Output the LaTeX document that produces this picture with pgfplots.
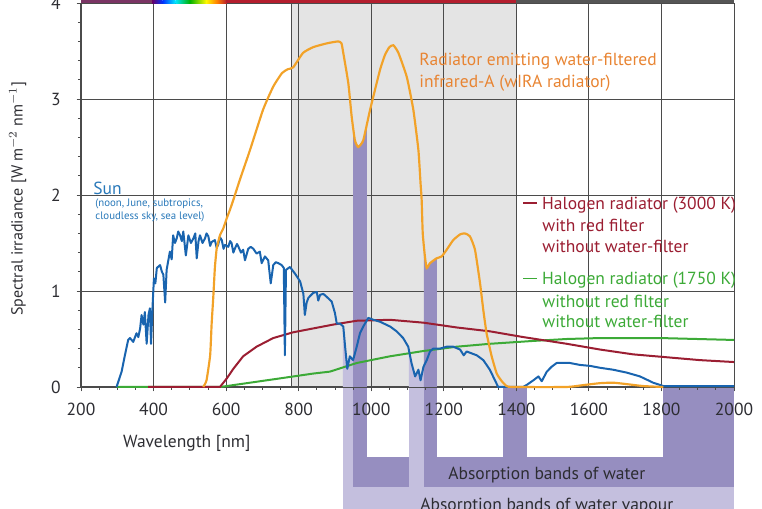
\documentclass[border=0pt]{standalone}
\usepackage{pgfplots}
\pgfplotsset{compat=1.18}
\usepackage{pgfplotstable}
\usepackage{fontspec}
\setmainfont{PT Sans}

\definecolor{orln}{RGB}{242,162,40}
\definecolor{ortx}{RGB}{232,132,50}
\definecolor{blln}{RGB}{25,100,175}
\definecolor{bltx}{RGB}{40,120,185}
\definecolor{rdln}{RGB}{155,30,50}
\definecolor{grln}{RGB}{60,170,55}
\definecolor{graybg}{RGB}{228,228,228}
\definecolor{dpur}{RGB}{150,142,192}
\definecolor{lpur}{RGB}{196,191,222}
\definecolor{barpur}{RGB}{122,52,100}
\definecolor{barred}{RGB}{180,30,46}
\definecolor{bargray}{RGB}{85,85,85}
\definecolor{gridc}{RGB}{75,75,75}
\definecolor{txtc}{RGB}{45,45,50}

\pgfplotstableread{
x y
298 0
312 0.16
321 0.33
330 0.49
335 0.51
344 0.47
353 0.56
358 0.52
363 0.61
367 0.75
372 0.65
376 0.78
381 0.45
386 0.75
390 0.82
393 0.45
397 0.82
401 1.13
405 1.08
409 1.24
418 1.27
423 1.20
427 1.17
432 0.88
436 1.22
445 1.41
450 1.33
454 1.58
459 1.50
464 1.55
468 1.62
473 1.58
478 1.52
482 1.62
489 1.37
496 1.58
503 1.50
510 1.55
515 1.60
519 1.34
524 1.52
528 1.58
535 1.50
542 1.55
546 1.60
551 1.57
556 1.47
560 1.51
569 1.53
574 1.45
578 1.48
583 1.56
588 1.53
593 1.44
597 1.48
606 1.46
611 1.52
615 1.50
620 1.40
624 1.44
630 1.49
634 1.46
641 1.40
647 1.43
652 1.32
661 1.44
668 1.46
675 1.44
684 1.39
693 1.41
698 1.29
707 1.36
716 1.32
723 1.08
730 1.27
737 1.30
744 1.29
753 1.27
759 1.24
762 0.33
765 1.22
776 1.25
790 1.18
804 1.10
813 0.97
817 0.75
822 0.88
827 0.93
840 0.98
850 0.99
854 0.90
859 0.96
868 0.97
877 0.94
891 0.89
900 0.77
905 0.66
914 0.66
923 0.63
928 0.42
934 0.19
941 0.32
950 0.28
960 0.42
969 0.56
978 0.63
992 0.72
1006 0.70
1024 0.68
1052 0.63
1070 0.58
1088 0.51
1102 0.42
1111 0.25
1121 0.11
1130 0.18
1136 0.07
1144 0.21
1153 0.28
1162 0.37
1171 0.40
1190 0.40
1208 0.42
1226 0.42
1245 0.39
1255 0.33
1263 0.37
1291 0.33
1309 0.28
1327 0.18
1341 0.07
1350 0.0
1418 0.0
1428 0.02
1447 0.07
1461 0.11
1470 0.06
1484 0.16
1497 0.21
1511 0.25
1529 0.25
1548 0.25
1575 0.23
1603 0.22
1631 0.20
1667 0.18
1704 0.15
1741 0.11
1777 0.045
1805 0.01
2000 0.01
}\sun

\pgfplotstableread{
x y
537 0
546 0.07
556 0.33
560 0.65
565 0.96
569 1.24
574 1.44
583 1.58
592 1.65
602 1.76
611 1.85
620 1.95
638 2.16
666 2.47
702 2.89
730 3.13
754 3.27
770 3.31
785 3.33
812 3.48
840 3.54
878 3.58
909 3.60
918 3.58
923 3.48
937 3.16
946 2.82
955 2.57
964 2.50
978 2.57
997 2.89
1024 3.30
1038 3.46
1050 3.54
1061 3.56
1075 3.48
1098 3.23
1116 2.89
1130 2.47
1136 2.12
1139 1.95
1142 1.60
1148 1.36
1153 1.24
1162 1.29
1180 1.34
1194 1.36
1208 1.43
1226 1.53
1245 1.59
1258 1.60
1272 1.57
1286 1.43
1300 1.08
1309 0.80
1318 0.56
1332 0.32
1346 0.14
1360 0.06
1373 0.01
1391 0
1538 0
1585 0.02
1631 0.04
1667 0.045
1704 0.03
1749 0.01
1805 0
}\wira

\pgfplotstableread{
x y
385 0
583 0
602 0.09
620 0.19
647 0.32
684 0.42
730 0.51
785 0.57
840 0.61
895 0.65
960 0.69
1052 0.70
1144 0.67
1236 0.62
1327 0.58
1419 0.52
1539 0.45
1631 0.39
1722 0.34
1814 0.31
1906 0.28
2000 0.26
}\halred

\pgfplotstableread{
x y
298 0
583 0
602 0.01
657 0.04
749 0.09
840 0.14
886 0.16
960 0.25
1052 0.32
1144 0.375
1236 0.42
1327 0.45
1447 0.48
1539 0.50
1631 0.51
1796 0.51
2000 0.49
}\halgreen

\begin{document}
\begin{tikzpicture}
\begin{axis}[
  at={(0,0)}, anchor=south west,
  scale only axis, width=391.8pt, height=230.4pt,
  xmin=200, xmax=2000, ymin=0, ymax=4,
  xtick={200,400,...,2000}, ytick={0,1,2,3,4},
  minor x tick num=3, minor y tick num=4,
  xtick pos=bottom, ytick pos=left,
  tick align=outside,
  major tick length=2.6pt, minor tick length=1.8pt,
  every tick/.style={color=gridc, line width=0.5pt},
  grid=major,
  major grid style={color=gridc, line width=0.5pt},
  axis line style={draw=gridc, line width=0.6pt},
  extra x ticks={780}, extra x tick labels={},
  extra x tick style={major tick length=0pt, grid=major},
  clip=false, set layers,
  /pgf/number format/assume math mode=true,
  /pgf/number format/set thousands separator={},
  tick label style={font=\fontsize{10.5}{12}\selectfont, color=txtc},
  xticklabel style={yshift=-3.4pt},
  yticklabel style={xshift=-6pt},
  ylabel={Spectral irradiance [W m$^{-2}$ nm$^{-1}$]},
  ylabel style={at={(axis description cs:-0.097,0.49)}, anchor=center, font=\fontsize{9.6}{12}\selectfont, color=txtc},
  xlabel={Wavelength [nm]},
  xlabel style={at={(axis description cs:0.162,-0.146)}, anchor=center, font=\fontsize{10.5}{12}\selectfont, color=txtc},
]
% background region
\addplot[on layer=axis background, fill=graybg, draw=none] coordinates {(780,0) (1400,0) (1400,4) (780,4)} -- cycle;
% absorption bands below axis
\addplot[on layer=axis background, fill=lpur, draw=none] coordinates {(922,0) (2000,0) (2000,-1.35) (922,-1.35)} -- cycle;
\addplot[on layer=axis background, fill=dpur, draw=none] coordinates {(950,0) (1104,0) (1104,-1.042) (950,-1.042)} -- cycle;
\addplot[on layer=axis background, fill=dpur, draw=none] coordinates {(1145,0) (2000,0) (2000,-1.042) (1145,-1.042)} -- cycle;
\addplot[on layer=axis background, fill=white, draw=none] coordinates {(988,0) (1104,0) (1104,-0.729) (988,-0.729)} -- cycle;
\addplot[on layer=axis background, fill=white, draw=none] coordinates {(1181,0) (1363,0) (1363,-0.729) (1181,-0.729)} -- cycle;
\addplot[on layer=axis background, fill=white, draw=none] coordinates {(1429,0) (1804,0) (1804,-0.729) (1429,-0.729)} -- cycle;
% absorption strips inside plot
\addplot[fill=lpur, draw=none] coordinates {(922,0) (922,0.63) (928,0.42) (934,0.19) (941,0.32) (950,0.28) (950,0)} -- cycle;
\addplot[fill=lpur, draw=none] coordinates {(1104,0) (1104,0.40) (1111,0.25) (1121,0.11) (1130,0.18) (1136,0.07) (1144,0.21) (1145,0.22) (1145,0)} -- cycle;
\addplot[fill=dpur, draw=none] coordinates {(950,0) (950,2.70) (955,2.57) (964,2.50) (978,2.57) (988,2.73) (988,0)} -- cycle;
\addplot[fill=dpur, draw=none] coordinates {(1145,0) (1145,1.48) (1148,1.36) (1153,1.24) (1162,1.29) (1180,1.34) (1181,1.34) (1181,0)} -- cycle;
% top colour bar
\addplot[fill=barpur, draw=none] coordinates {(200,4) (396,4) (396,4.08) (200,4.08)} -- cycle;
\addplot[draw=none, left color=violet!80!black, right color=blue!80!cyan] coordinates {(396,4) (425,4) (425,4.08) (396,4.08)} -- cycle;
\addplot[draw=none, left color=blue!80!cyan, right color=cyan!90!blue] coordinates {(425,4) (460,4) (460,4.08) (425,4.08)} -- cycle;
\addplot[draw=none, left color=cyan!90!blue, right color=green!70!black] coordinates {(460,4) (500,4) (500,4.08) (460,4.08)} -- cycle;
\addplot[draw=none, left color=green!70!black, right color=yellow!95!orange] coordinates {(500,4) (545,4) (545,4.08) (500,4.08)} -- cycle;
\addplot[draw=none, left color=yellow!95!orange, right color=orange] coordinates {(545,4) (575,4) (575,4.08) (545,4.08)} -- cycle;
\addplot[draw=none, left color=orange, right color=barred] coordinates {(575,4) (602,4) (602,4.08) (575,4.08)} -- cycle;
\addplot[fill=barred, draw=none] coordinates {(601,4) (1400,4) (1400,4.08) (601,4.08)} -- cycle;
\addplot[fill=bargray, draw=none] coordinates {(1400,4) (2000,4) (2000,4.08) (1400,4.08)} -- cycle;
% curves
\addplot[grln, line width=1.2pt] table[x=x,y=y] {\halgreen};
\addplot[rdln, line width=1.2pt] table[x=x,y=y] {\halred};
\addplot[blln, line width=1.2pt, line join=round] table[x=x,y=y] {\sun};
\addplot[orln, line width=1.3pt, smooth, tension=0.3] table[x=x,y=y] {\wira};
% annotations
\node[anchor=base west, inner sep=0, text=ortx, font=\fontsize{10.5}{12}\selectfont] at (axis cs:1132,3.354) {Radiator emitting water-filtered};
\node[anchor=base west, inner sep=0, text=ortx, font=\fontsize{10.5}{12}\selectfont] at (axis cs:1132,3.125) {infrared-A (wIRA radiator)};
\node[anchor=base west, inner sep=0, text=bltx, font=\fontsize{10.5}{12}\selectfont] at (axis cs:233,2.0) {Sun};
\node[anchor=base, inner sep=0, text=bltx, font=\fontsize{6.5}{8}\selectfont] at (axis cs:388,1.875) {(noon, June, subtropics,};
\node[anchor=base, inner sep=0, text=bltx, font=\fontsize{6.5}{8}\selectfont] at (axis cs:390,1.74) {cloudless sky, sea level)};
\node[anchor=base west, inner sep=0, text=rdln, font=\fontsize{10.5}{12}\selectfont] at (axis cs:1418,1.854) {\rule[3.3pt]{8.4pt}{0.8pt}\hspace{3pt}Halogen radiator (3000 K)};
\node[anchor=base west, inner sep=0, text=rdln, font=\fontsize{10.5}{12}\selectfont] at (axis cs:1471,1.615) {with red filter};
\node[anchor=base west, inner sep=0, text=rdln, font=\fontsize{10.5}{12}\selectfont] at (axis cs:1471,1.396) {without water-filter};
\node[anchor=base west, inner sep=0, text=grln, font=\fontsize{10.5}{12}\selectfont] at (axis cs:1418,1.0625) {\rule[3.3pt]{8.4pt}{0.8pt}\hspace{3pt}Halogen radiator (1750 K)};
\node[anchor=base west, inner sep=0, text=grln, font=\fontsize{10.5}{12}\selectfont] at (axis cs:1471,0.833) {without red filter};
\node[anchor=base west, inner sep=0, text=grln, font=\fontsize{10.5}{12}\selectfont] at (axis cs:1471,0.615) {without water-filter};
\node[anchor=center, inner sep=0, text=txtc, font=\fontsize{10.5}{12}\selectfont] at (axis cs:1484,-0.917) {Absorption bands of water};
\node[anchor=center, inner sep=0, text=txtc, font=\fontsize{10.5}{12}\selectfont] at (axis cs:1484,-1.235) {Absorption bands of water vapour};
\end{axis}
\pgfresetboundingbox
\useasboundingbox (-48.6pt,-72.6pt) rectangle (408.6pt,232.2pt);
\end{tikzpicture}
\end{document}
